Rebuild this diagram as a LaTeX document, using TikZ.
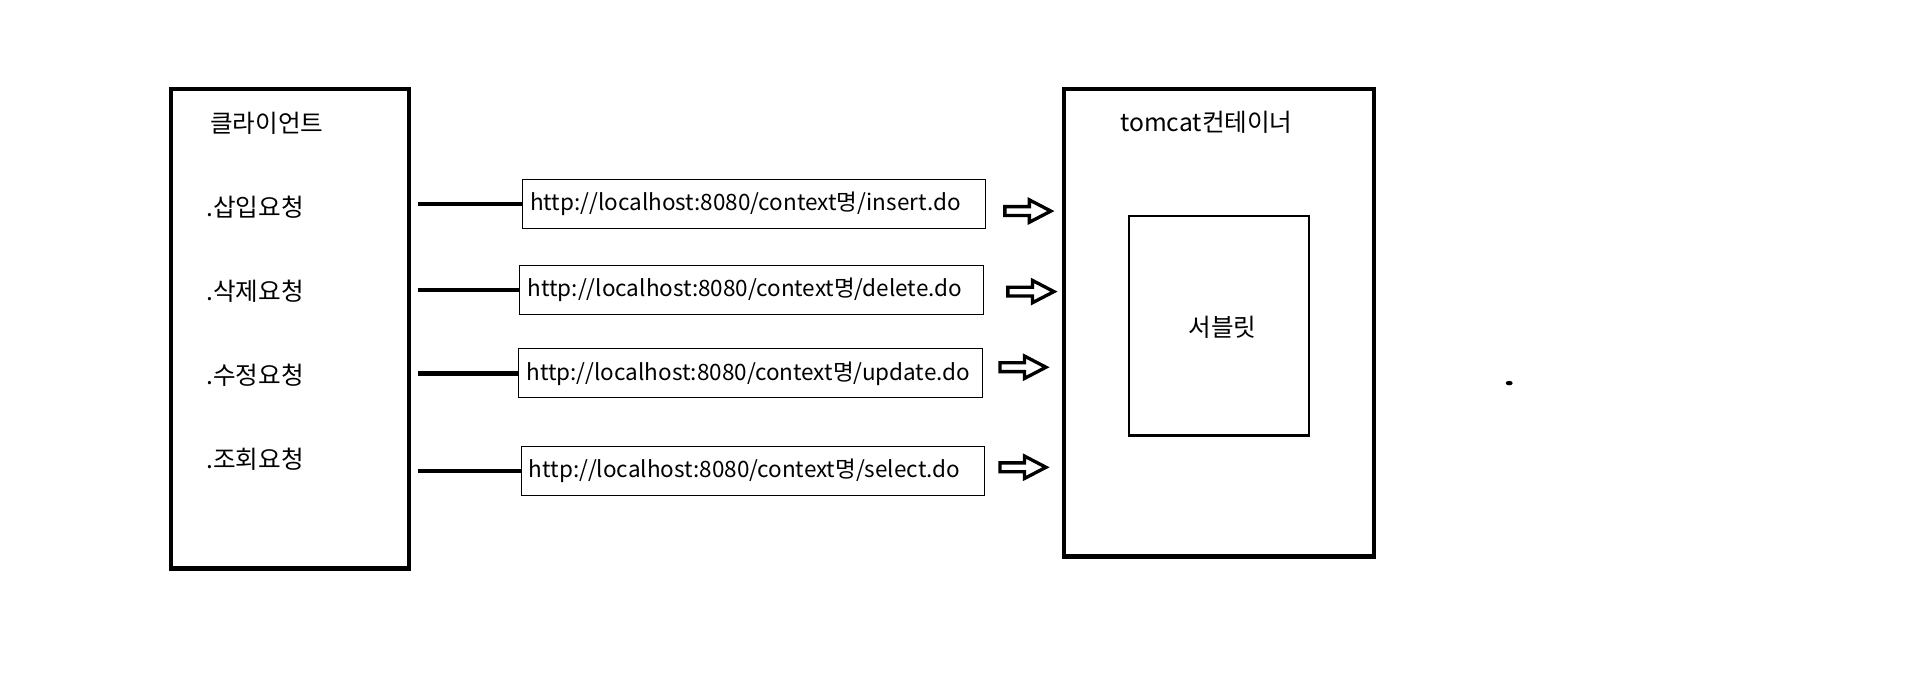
\documentclass[tikz,border=0pt]{standalone}
\usepackage{fontspec}
\setmainfont{Noto Sans CJK KR}
\usetikzlibrary{positioning,shapes.arrows}

\tikzset{
  bigbox/.style={draw, line width=2.4pt, inner sep=0pt},
  srvbox/.style={draw, line width=1.2pt, inner sep=0pt},
  urlbox/.style={draw, line width=0.5pt, inner xsep=4.5pt, text width=8.95cm, minimum height=0.98cm, align=left, font=\fontsize{12.8}{15}\selectfont},
  conn/.style={line width=2.5pt, shorten <=0.15cm},
  fwd/.style={single arrow, draw, line width=1.9pt, inner xsep=0pt, inner ysep=0.055cm, minimum height=0.92cm, minimum width=0.38cm, single arrow head extend=0.135cm, single arrow tip angle=55},
  lbl/.style={font=\fontsize{14}{17}\selectfont}
}

\begin{document}
\begin{tikzpicture}[x=0.0244cm, y=-0.0244cm, node distance=1.68cm]
        \useasboundingbox (0,0) rectangle (1568,552);

        % client side
        \node[bigbox, minimum width=4.76cm, minimum height=9.59cm] (client) at (237.5,269.5) {};
        \node[lbl, anchor=west, inner xsep=0pt] (ctitle) at (172,101) {클라이언트};
        \node[lbl] (r1) at (209,170) {.삽입요청};
        \node[lbl] (r2) [below of=r1] {.삭제요청};
        \node[lbl] (r3) [below of=r2] {.수정요청};
        \node[lbl] (r4) [below of=r3] {.조회요청};

        % requests
        \node[urlbox] (u1) at (618,167) {http://localhost:8080/context명/insert.do};
        \node[urlbox] (u2) at (616,237.5) {http://localhost:8080/context명/delete.do};
        \node[urlbox] (u3) at (615,306) {http://localhost:8080/context명/update.do};
        \node[urlbox] (u4) at (617,386) {http://localhost:8080/context명/select.do};

        \draw[conn] (client.east |- u1) -- (u1.west);
        \draw[conn] (client.east |- u2) -- (u2.west);
        \draw[conn] (client.east |- u3) -- (u3.west);
        \draw[conn] (client.east |- u4) -- (u4.west);

        \node[fwd] (a1) at (839,173) {};
        \node[fwd] (a2) at (841.5,239) {};
        \node[fwd] (a3) at (835,301) {};
        \node[fwd] (a4) at (835,383) {};

        % container
        \node[bigbox, minimum width=6.2cm, minimum height=9.35cm] (tomcat) at (999,264.5) {};
        \node[lbl, anchor=west, inner xsep=0pt] (ttitle) at (918,100) {tomcat컨테이너};
        \node[srvbox, minimum width=3.61cm, minimum height=4.39cm] (servlet) at (999,267) {};
        \node[lbl] (stitle) at (1002,268) {서블릿};

        \fill (1237,314) ellipse [x radius=0.07cm, y radius=0.045cm];
\end{tikzpicture}
\end{document}
